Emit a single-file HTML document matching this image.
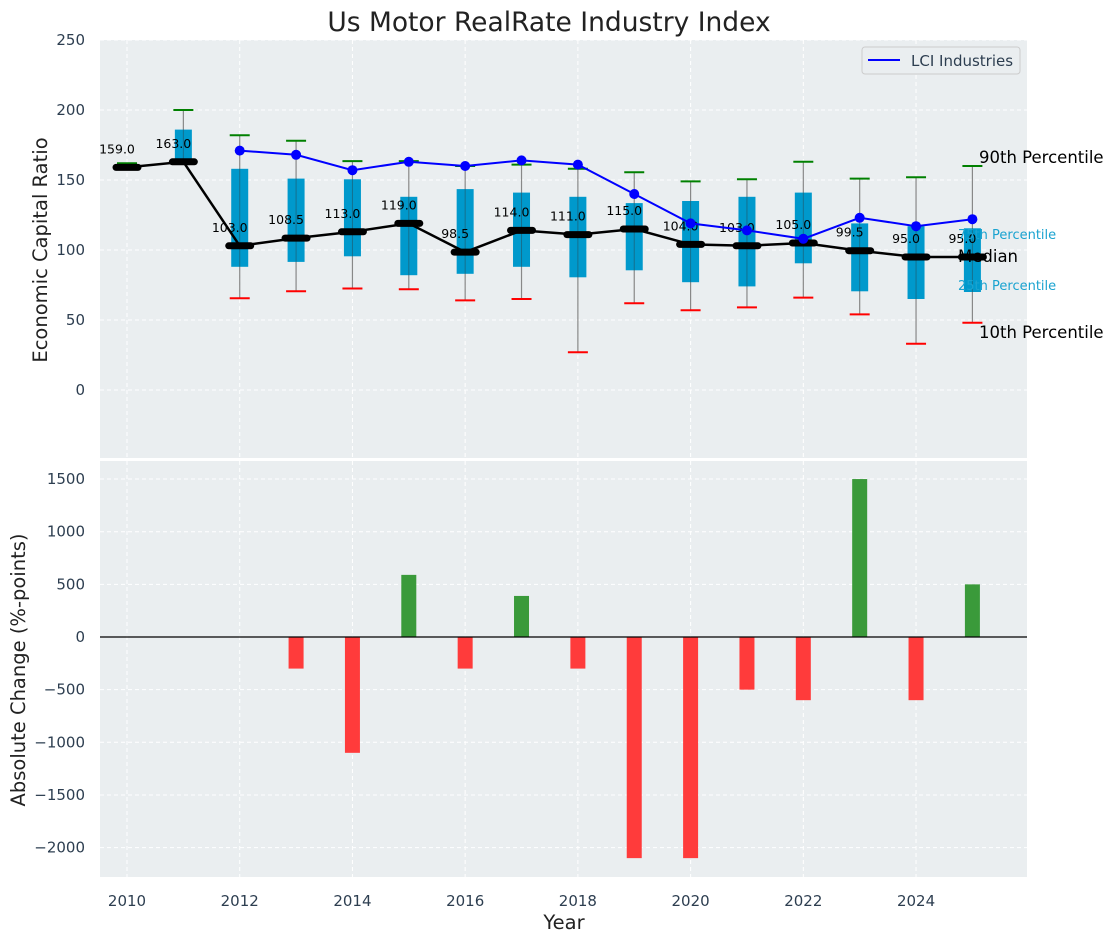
<!DOCTYPE html>
<html><head><meta charset="utf-8"><style>
body{margin:0;background:#fff;}
svg{display:block;font-family:"DejaVu Sans","Liberation Sans",sans-serif;}
</style></head><body>
<svg id="chart" width="1114" height="942" viewBox="0 0 1114 942" xmlns="http://www.w3.org/2000/svg"></svg>
<script>
const years=[2010,2011,2012,2013,2014,2015,2016,2017,2018,2019,2020,2021,2022,2023,2024,2025];
const p90=[162,200,182,178,163.5,163.5,160,161,158,155.5,149,150.5,163,151,152,160];
const p75=[null,186,158,151,150.5,138,143.5,141,138,133.5,135,138,141,119,117,115.5];
const median=[159,163,103,108.5,113,119,98.5,114,111,115,104,103,105,99.5,95,95];
const p25=[null,163,88,91.5,95.5,82,83,88,80.5,85.5,77,74,90.5,70.5,65,70];
const p10=[null,null,65.5,70.5,72.5,72,64,65,27,62,57,59,66,54,33,48];
const lci=[null,null,171,168,157,163,160,164,161,140,119,114,108,123,117,122];
const changes=[null,null,null,-300,-1100,590,-300,390,-300,-2100,-2100,-500,-600,1500,-600,500];
const topTicks=[250,200,150,100,50,0];
const botTicks=[1500,1000,500,0,-500,-1000,-1500,-2000];
const xTicks=[2010,2012,2014,2016,2018,2020,2022,2024];

const NS="http://www.w3.org/2000/svg";
const svg=document.getElementById('chart');
function el(tag,attrs,parent){const e=document.createElementNS(NS,tag);for(const k in attrs)e.setAttribute(k,attrs[k]);(parent||svg).appendChild(e);return e;}
const X=y=>127+(y-2010)*56.36;
const YT=v=>390-v*1.4;
const YB=v=>637-v*0.1053;
const L=100,R=1027;

let bg=el('rect',{x:L,y:40,width:R-L,height:418,fill:'#eaeef0'});


let bg2=el('rect',{x:L,y:461,width:R-L,height:416,fill:'#eaeef0'});



xTicks.forEach(t=>{
  [[40,458],[461,877]].forEach(r=>{let g=el('line',{x1:X(t),x2:X(t),y1:r[0],y2:r[1],stroke:'#fff','stroke-dasharray':'4,3','stroke-width':1});
  
  });
  let tl=el('text',{x:X(t),y:906,'text-anchor':'middle','font-size':15,fill:'#2d3e50'});tl.textContent=t;
  
  
});
topTicks.forEach(t=>{
  let g=el('line',{x1:L,x2:R,y1:YT(t),y2:YT(t),stroke:'#fff','stroke-dasharray':'4,3'});
  
  
  let tl=el('text',{x:85,y:YT(t)+5,'text-anchor':'end','font-size':15,fill:'#2d3e50'});tl.textContent=t;
  
  
});
botTicks.forEach(t=>{
  let g=el('line',{x1:L,x2:R,y1:YB(t),y2:YB(t),stroke:'#fff','stroke-dasharray':'4,3'});
  
  
  let tl=el('text',{x:85,y:YB(t)+5,'text-anchor':'end','font-size':15,fill:'#2d3e50'});tl.textContent=(t<0?'\u2212'+(-t):t);
  
  
});

years.forEach((y,i)=>{
  const x=X(y);
  const lo=p10[i]!=null?p10[i]:(p25[i]!=null?p25[i]:median[i]);
  if(p90[i]!=null&&i>0){let w=el('line',{x1:x,x2:x,y1:YT(p90[i]),y2:YT(lo),stroke:'#888','stroke-width':1.2});
  
  }
  if(p75[i]!=null){let b=el('rect',{x:x-8.5,y:YT(p75[i]),width:17,height:YT(p25[i])-YT(p75[i]),fill:'#0099cc'});
  
  
  let w2=el('line',{x1:x,x2:x,y1:YT(p75[i]),y2:YT(p25[i]),stroke:'#333','stroke-width':1,opacity:0.4});
  
  }
  if(p90[i]!=null){let c=el('line',{x1:x-10,x2:x+10,y1:YT(p90[i]),y2:YT(p90[i]),stroke:'green','stroke-width':2});
  
  }
  if(p10[i]!=null){let c=el('line',{x1:x-10,x2:x+10,y1:YT(p10[i]),y2:YT(p10[i]),stroke:'red','stroke-width':2});
  
  }
});
let mp=el('polyline',{points:years.map((y,i)=>X(y)+','+YT(median[i])).join(' '),fill:'none',stroke:'#000','stroke-width':2.5});


years.forEach((y,i)=>{
  let m=el('line',{x1:X(y)-11,x2:X(y)+11,y1:YT(median[i]),y2:YT(median[i]),stroke:'#000','stroke-width':7,'stroke-linecap':'round'});
  
  
  let t=el('text',{x:X(y)-10,y:YT(median[i])-14,'text-anchor':'middle','font-size':12.5,fill:'#000'});t.textContent=median[i].toFixed(1);
  
  
});
const lp=[];years.forEach((y,i)=>{if(lci[i]!=null)lp.push(X(y)+','+YT(lci[i]));});
let ll=el('polyline',{points:lp.join(' '),fill:'none',stroke:'blue','stroke-width':2});


years.forEach((y,i)=>{if(lci[i]==null)return;
  let c=el('circle',{cx:X(y),cy:YT(lci[i]),r:5,fill:'blue'});
  
  });

const ann=[['90th Percentile',979,163,16.5,'#000'],['75th Percentile',958,239,13,'#1aa3d0'],['Median',958,262,16.5,'#000'],['25th Percentile',958,290,13,'#1aa3d0'],['10th Percentile',979,338,16.5,'#000']];
ann.forEach(a=>{let t=el('text',{x:a[1],y:a[2],'font-size':a[3],fill:a[4]});t.textContent=a[0];
  
  });

const lg=el('g',{});


el('rect',{x:862,y:47,width:158,height:27,rx:3,fill:'#eaeef0',stroke:'#ccc'},lg);
el('line',{x1:868,x2:900,y1:60,y2:60,stroke:'blue','stroke-width':2},lg);
let lt=el('text',{x:911,y:66,'font-size':15,fill:'#2d3e50'},lg);lt.textContent='LCI Industries';

years.forEach((y,i)=>{const v=changes[i];if(v==null)return;
  const y0=YB(Math.max(v,0)),h=Math.abs(YB(v)-YB(0));
  let b=el('rect',{x:X(y)-7.5,y:y0,width:15,height:h,fill:v>=0?'#3a9a3a':'#ff3b3b'});
  
  });
let zl=el('line',{x1:L,x2:R,y1:YB(0),y2:YB(0),stroke:'#000','stroke-width':1.2});



let ti=el('text',{x:549,y:31,'text-anchor':'middle','font-size':26.5,fill:'#222'});ti.textContent='Us Motor RealRate Industry Index';


let ya=el('text',{x:0,y:0,'text-anchor':'middle','font-size':19.5,fill:'#222',transform:'translate(47,250) rotate(-90)'});ya.textContent='Economic Capital Ratio';


let yb=el('text',{x:0,y:0,'text-anchor':'middle','font-size':19.5,fill:'#222',transform:'translate(25,670) rotate(-90)'});yb.textContent='Absolute Change (%-points)';


let xa=el('text',{x:564,y:929,'text-anchor':'middle','font-size':19.5,fill:'#222'});xa.textContent='Year';


</script>
</body></html>
